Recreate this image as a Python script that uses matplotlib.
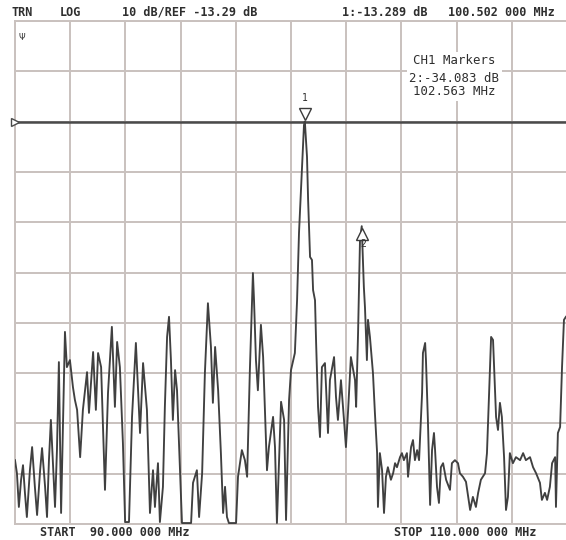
# Network analyzer trace screen (CH1, LOG, 10 dB/div)
import numpy as np
import matplotlib.pyplot as plt

start_mhz, stop_mhz = 90.0, 110.0
ref_db = -13.29
db_per_div = 10
marker_freq = [100.502, 102.563]
marker_db = [-13.289, -34.083]

freq = [90.00, 90.07, 90.14, 90.22, 90.29, 90.36, 90.43, 90.54, 90.62, 90.72,
        90.80, 90.91, 90.98, 91.09, 91.16, 91.23, 91.30, 91.38, 91.45, 91.52,
        91.59, 91.67, 91.81, 91.88, 91.99, 92.10, 92.17, 92.25, 92.36, 92.46,
        92.61, 92.68, 92.83, 92.93, 93.01, 93.12, 93.19, 93.26, 93.37, 93.51,
        93.62, 93.70, 93.80, 93.91, 93.99, 94.13, 94.24, 94.38, 94.53, 94.64,
        94.78, 94.89, 95.00, 95.07, 95.18, 95.25, 95.36, 95.43, 95.51, 95.58,
        95.65, 95.72, 95.80, 95.87, 95.98, 96.05, 96.38, 96.45, 96.59, 96.67,
        96.78, 96.88, 96.99, 97.10, 97.17, 97.25, 97.36, 97.46, 97.54, 97.61,
        97.68, 97.75, 98.01, 98.08, 98.22, 98.33, 98.41, 98.51, 98.62, 98.66,
        98.73, 98.80, 98.91, 98.99, 99.13, 99.20, 99.35, 99.42, 99.49, 99.64,
        99.75, 99.82, 99.93, 100.00, 100.14, 100.22, 100.29, 100.40, 100.47, 100.502,
        100.58, 100.62, 100.69, 100.76, 100.80, 100.87, 100.91, 100.98, 101.05, 101.12,
        101.23, 101.27, 101.34, 101.41, 101.56, 101.63, 101.70, 101.81, 101.92, 101.99,
        102.07, 102.17, 102.32, 102.36, 102.43, 102.50, 102.563, 102.64, 102.68, 102.75,
        102.79, 102.86, 102.97, 103.04, 103.12, 103.15, 103.22, 103.30, 103.37, 103.44,
        103.51, 103.62, 103.70, 103.77, 103.84, 103.95, 104.02, 104.09, 104.20, 104.24,
        104.35, 104.42, 104.49, 104.57, 104.64, 104.75, 104.78, 104.86, 104.89, 104.96,
        105.04, 105.11, 105.18, 105.22, 105.29, 105.36, 105.43, 105.51, 105.62, 105.76,
        105.83, 105.94, 106.05, 106.12, 106.23, 106.34, 106.49, 106.59, 106.70, 106.78,
        106.88, 107.03, 107.10, 107.17, 107.25, 107.32, 107.39, 107.43, 107.50, 107.57,
        107.64, 107.72, 107.79, 107.86, 107.93, 108.04, 108.15, 108.30, 108.41, 108.51,
        108.66, 108.77, 108.88, 109.02, 109.09, 109.20, 109.28, 109.38, 109.46, 109.57,
        109.60, 109.67, 109.75, 109.82, 109.89, 109.96]

level = [-80.6, -83.2, -89.9, -84.5, -81.6, -87.1, -91.9, -82.6, -78.0, -85.9,
         -91.5, -82.6, -78.2, -85.9, -91.9, -80.6, -72.6, -82.0, -89.9, -78.6,
         -61.1, -91.1, -55.1, -62.1, -60.7, -66.1, -68.6, -70.6, -80.0, -70.6,
         -63.1, -71.2, -59.1, -70.6, -59.3, -62.1, -74.0, -86.5, -67.2, -54.1,
         -70.0, -57.1, -62.1, -77.2, -92.9, -92.9, -72.0, -57.3, -75.2, -61.3,
         -70.6, -91.1, -82.6, -89.9, -81.2, -92.9, -85.9, -70.0, -56.1, -52.1,
         -60.7, -72.6, -62.7, -66.7, -83.2, -93.1, -93.1, -85.1, -82.6, -91.9,
         -83.2, -63.3, -49.4, -58.1, -69.2, -58.1, -66.7, -79.2, -91.1, -85.9,
         -91.9, -93.1, -93.1, -83.9, -78.6, -80.6, -83.9, -62.7, -43.4, -48.8,
         -60.7, -66.7, -53.7, -60.1, -82.6, -78.0, -72.0, -78.0, -93.1, -69.0,
         -72.6, -92.5, -68.6, -62.7, -59.3, -48.8, -35.4, -22.3, -14.0, -13.29,
         -20.3, -28.9, -40.2, -40.8, -46.8, -48.8, -57.3, -70.0, -76.0, -62.1,
         -61.3, -66.1, -75.2, -64.7, -60.1, -68.0, -72.6, -64.7, -72.6, -78.0,
         -70.6, -60.1, -64.7, -70.0, -55.3, -36.8, -34.08, -46.2, -50.2, -60.7,
         -52.7, -56.1, -63.3, -71.2, -79.2, -89.9, -79.2, -82.6, -91.1, -83.9,
         -82.0, -84.5, -83.2, -81.2, -82.0, -80.0, -79.2, -80.6, -79.2, -83.9,
         -78.0, -76.6, -80.6, -78.6, -80.6, -67.2, -59.3, -57.3, -60.7, -72.6,
         -89.5, -78.6, -75.2, -78.6, -85.9, -89.1, -82.0, -81.2, -84.5, -86.5,
         -81.2, -80.6, -81.2, -83.2, -83.9, -84.9, -90.5, -87.9, -89.9, -87.1,
         -84.5, -83.2, -79.2, -68.6, -56.1, -56.7, -66.1, -72.0, -74.6, -69.2,
         -72.0, -80.0, -90.5, -87.9, -79.2, -81.2, -80.0, -80.6, -79.2, -80.6,
         -80.0, -82.0, -83.2, -85.1, -88.5, -87.1, -88.5, -85.9, -81.2, -80.0,
         -89.9, -75.2, -74.0, -62.1, -52.7, -52.1]

# ── Screen layout ────────────────────────────────────────────────────────────
top_db = ref_db + 2 * db_per_div
bot_db = ref_db - 8 * db_per_div
txt = '#2e2e2e'
grid_c = '#c9c1be'
mono = 'DejaVu Sans Mono'

fig = plt.figure(figsize=(5.66, 5.40), dpi=100)
fig.patch.set_facecolor('white')
ax = fig.add_axes([15 / 566, 16 / 540, 552 / 566, 503 / 540])
ax.set_xlim(start_mhz, stop_mhz)
ax.set_ylim(bot_db, top_db)
ax.set_xticks(np.linspace(start_mhz, stop_mhz, 11))
ax.set_yticks(np.linspace(bot_db, top_db, 11))
ax.tick_params(length=0, labelbottom=False, labelleft=False)
ax.grid(True, color=grid_c, lw=1.4)
for s in ax.spines.values():
    s.set_color(grid_c)
    s.set_linewidth(1.4)

# reference line + left pointer
ax.axhline(ref_db, color='#4a4a4a', lw=1.8, zorder=3)
ax.plot([start_mhz], [ref_db], marker='>', ms=6, mfc='white', mec='#4a4a4a',
        mew=1.0, clip_on=False, zorder=4)

# trace
ax.plot(freq, level, color='#404040', lw=1.35, zorder=5)

# markers
ax.plot(marker_freq[0], marker_db[0] + 1.6, marker='v', ms=8, mfc='white',
        mec='#3a3a3a', mew=1.0, zorder=6)
ax.text(marker_freq[0], marker_db[0] + 3.6, '1', ha='center', va='bottom',
        fontsize=7, family=mono, color=txt, zorder=6)
ax.plot(marker_freq[1], marker_db[1] - 1.6, marker='^', ms=8, mfc='white',
        mec='#3a3a3a', mew=1.0, zorder=6)
ax.text(marker_freq[1] + 0.06, marker_db[1] - 2.6, '2', ha='center', va='top',
        fontsize=7, family=mono, color=txt, zorder=6)

# small channel symbol in the upper-left corner
ax.text(0.007, 0.968, 'Ψ', transform=ax.transAxes, fontsize=6, color=txt,
        ha='left', va='center')

# marker readout box
box = dict(facecolor='white', edgecolor='none', pad=2)
ax.text(0.796, 0.921, 'CH1 Markers', transform=ax.transAxes, fontsize=8.9,
        family=mono, color=txt, ha='center', va='center', bbox=box, zorder=7)
ax.text(0.796, 0.873, f'2:{marker_db[1]:.3f} dB\n{marker_freq[1]:.3f} MHz',
        transform=ax.transAxes, fontsize=8.9, family=mono, color=txt,
        ha='center', va='center', linespacing=1.0, bbox=box, zorder=7)

# header and footer annotations
kw = dict(fontsize=8.5, family=mono, color=txt, va='center', weight='bold')
fig.text(11 / 566, 1 - 12 / 540, 'TRN', **kw)
fig.text(60 / 566, 1 - 12 / 540, 'LOG', **kw)
fig.text(122 / 566, 1 - 12 / 540, f'{db_per_div} dB/REF {ref_db:.2f} dB', **kw)
fig.text(342 / 566, 1 - 12 / 540, f'1:{marker_db[0]:.3f} dB', **kw)
fig.text(555 / 566, 1 - 12 / 540, '100.502 000 MHz', ha='right', **kw)
fig.text(40 / 566, 1 - 532 / 540, 'START  90.000 000 MHz', **kw)
fig.text(537 / 566, 1 - 532 / 540, 'STOP 110.000 000 MHz', ha='right', **kw)

plt.savefig('out.png', dpi=100, facecolor='white')
